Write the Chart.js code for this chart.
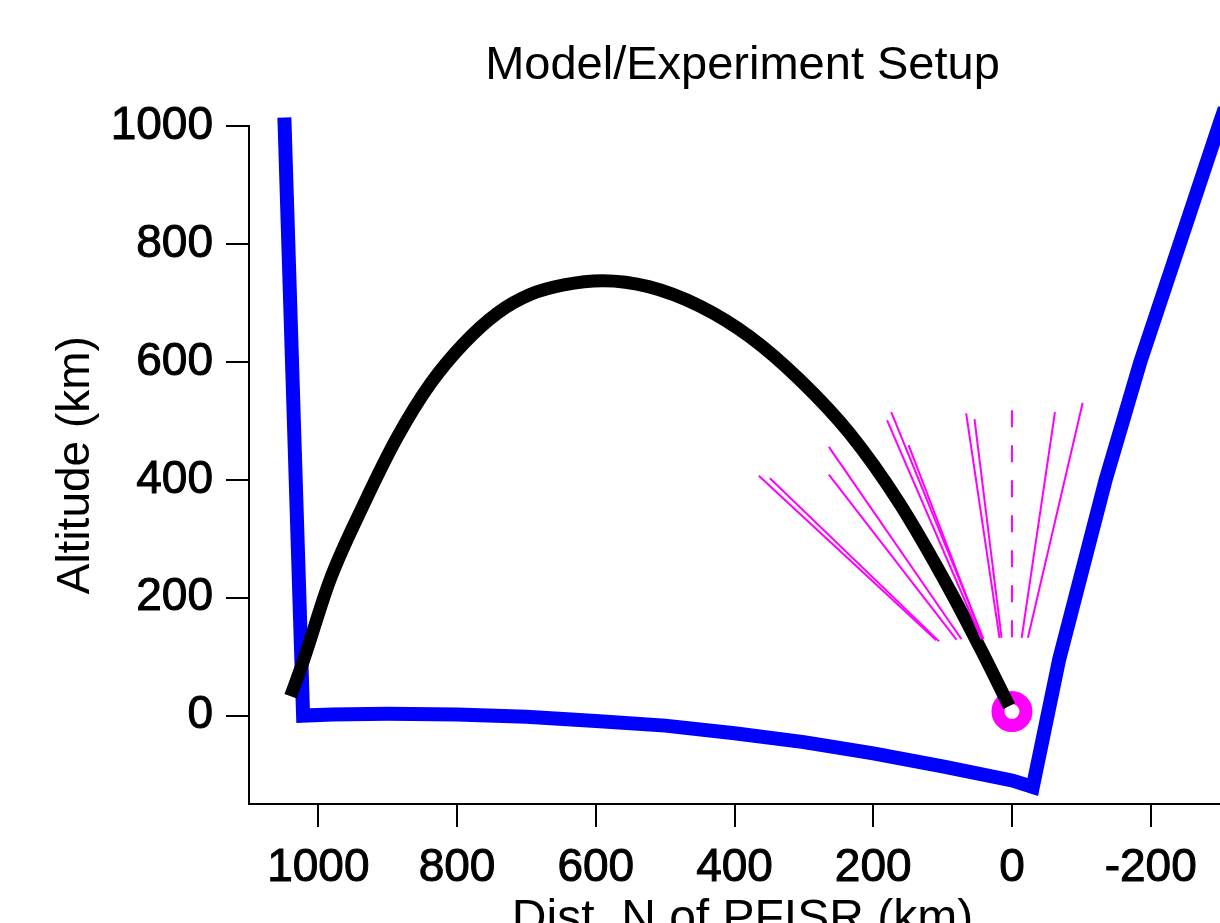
<!DOCTYPE html>
<html><head><meta charset="utf-8">
<script src="https://cdn.jsdelivr.net/npm/chart.js@4.4.1/dist/chart.umd.min.js"></script>
<style>html,body{margin:0;padding:0;background:#fff;overflow:hidden}</style>
</head><body>
<canvas id="c" width="1220" height="923"></canvas>
<script>
// Tick labels
const xTicks = [1000, 800, 600, 400, 200, 0, -200];
const yTicks = [0, 200, 400, 600, 800, 1000];

// Blue boundary (km north of PFISR, altitude km)
const boundaryX = [1049, 1022, 980, 900, 800, 700, 600, 500, 400, 300, 200, 100, 0, -30, -68, -135, -185, -258, -300, -330];
const boundaryY = [1015, 0, 2, 3, 2, -2, -9, -17, -30, -45, -64, -86, -110, -121, 95, 400, 600, 858, 1007, 1110];

// Black trajectory
const trajX = [1040, 1021, 983, 934, 886, 838, 790, 742, 694, 646, 590, 524, 450, 378, 306, 234, 162, 90, 42, 4];
const trajY = [33, 95, 231, 360, 473, 564, 632, 683, 715, 731, 738, 728, 695, 643, 570, 479, 360, 214, 106, 16];

// Radar beams (magenta)
const beamTopX  = [365, 349, 264, 264, 180, 174, 149, 66, 54, 0, -62, -102];
const beamTopY  = [407, 403, 409, 456, 501, 515, 459, 513, 503, 523, 515, 531];
const beamBaseX = [109, 105, 80, 73, 44, 41, 42, 18, 15, 0, -14, -23];
const beamBaseY = [128, 126, 129, 130, 130, 130, 130, 132, 132, 133, 132, 132];
const beamDashed = [false, false, false, false, false, false, false, false, false, true, false, false];

// Radar site
const radarX = [0];
const radarY = [7];

const FAMILY = "'Liberation Sans', Arial, Helvetica, sans-serif";
const PLOT_RIGHT = 1236; // plot region continues past the picture's right edge
const zip = (xs, ys) => xs.map((x, i) => ({x: x, y: ys[i]}));

const datasets = [];
beamTopX.forEach((_, i) => {
  datasets.push({
    data: [{x: beamBaseX[i], y: beamBaseY[i]}, {x: beamTopX[i], y: beamTopY[i]}],
    showLine: true, borderColor: '#ff00ff', borderWidth: 2, pointRadius: 0,
    borderDash: beamDashed[i] ? [17, 18] : [], order: 0, tension: 0
  });
});
datasets.push({
  data: zip(trajX, trajY), showLine: true, borderColor: '#000000', borderWidth: 13,
  pointRadius: 0, cubicInterpolationMode: 'monotone', borderCapStyle: 'butt', borderJoinStyle: 'round', order: 1
});
datasets.push({
  data: zip(radarX, radarY), showLine: false, pointRadius: 14, borderWidth: 13,
  pointBorderColor: '#ff00ff', pointBackgroundColor: '#ffffff', pointBorderWidth: 13, order: 2
});
datasets.push({
  data: zip(boundaryX, boundaryY), showLine: true, borderColor: '#0000ff', borderWidth: 14,
  pointRadius: 0, tension: 0, borderJoinStyle: 'miter', borderCapStyle: 'butt', order: 3,
  clip: {left: 20, top: 20, right: 0, bottom: 20}
});

const stretchPlugin = {
  id: 'stretch',
  afterLayout(chart) {
    const ca = chart.chartArea;
    ca.right = PLOT_RIGHT; ca.width = PLOT_RIGHT - ca.left;
    const x = chart.scales.x;
    x.right = PLOT_RIGHT; x.width = PLOT_RIGHT - x.left; x.configure();
    const t = chart.titleBlock;
    if (t) { t.left = ca.left; t.right = PLOT_RIGHT; t.width = PLOT_RIGHT - ca.left; }
  }
};

new Chart(document.getElementById('c'), {
  type: 'scatter',
  data: {datasets: datasets},
  plugins: [stretchPlugin],
  options: {
    responsive: false, animation: false, devicePixelRatio: 1,
    events: [],
    layout: {padding: {left: 0, right: 0, top: 0, bottom: 0}},
    plugins: {
      legend: {display: false}, tooltip: {enabled: false},
      title: {display: true, fullSize: false, text: 'Model/Experiment Setup', color: '#000',
        font: {family: FAMILY, size: 47, weight: 'normal', lineHeight: 1.2},
        padding: {top: 38, bottom: 32}}
    },
    scales: {
      x: {
        type: 'linear', reverse: true, min: -323, max: 1100,
        afterBuildTicks: s => { s.ticks = xTicks.map(v => ({value: v})); },
        afterFit: s => { s.height = 119; s.paddingLeft = 0; s.paddingRight = 0; },
        border: {display: true, color: '#000', width: 2},
        grid: {drawOnChartArea: false, drawTicks: true, tickLength: 23, tickColor: '#000', tickWidth: 2, color: '#000', lineWidth: 2},
        ticks: {color: '#000', font: {family: FAMILY, size: 46}, padding: 14, maxRotation: 0, autoSkip: false,
          textStrokeColor: '#000', textStrokeWidth: 1, callback: v => String(v)},
        title: {display: true, text: 'Dist. N of PFISR (km)', color: '#000',
          font: {family: FAMILY, size: 48, lineHeight: 1}, padding: {top: 0, bottom: -21}}
      },
      y: {
        type: 'linear', min: -150, max: 1000,
        afterBuildTicks: s => { s.ticks = yTicks.map(v => ({value: v})); },
        afterFit: s => { s.width = 249; },
        border: {display: true, color: '#000', width: 2},
        grid: {drawOnChartArea: false, drawTicks: true, tickLength: 23, tickColor: '#000', tickWidth: 2, color: '#000', lineWidth: 2},
        ticks: {color: '#000', font: {family: FAMILY, size: 46}, padding: 13, autoSkip: false,
          textStrokeColor: '#000', textStrokeWidth: 1, callback: v => String(v)},
        title: {display: true, text: 'Altitude (km)', color: '#000',
          font: {family: FAMILY, size: 46, lineHeight: 1}, padding: {top: 53, bottom: 0}}
      }
    }
  }
});
</script>
</body></html>
